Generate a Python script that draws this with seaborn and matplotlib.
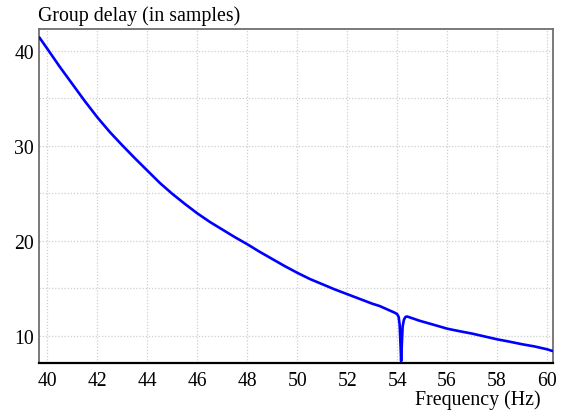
import matplotlib
matplotlib.use("Agg")
import matplotlib.pyplot as plt
from matplotlib.ticker import MultipleLocator
import seaborn as sns
import pandas as pd

# Group delay of the filter versus frequency
freq_hz = [39.68, 40.0, 40.5, 41.0, 41.5, 42.0, 42.5, 43.0, 43.5, 44.0, 44.5,
           45.0, 45.5, 46.0, 46.5, 47.0, 47.5, 48.0, 48.5, 49.0, 49.5, 50.0,
           50.5, 51.0, 51.5, 52.0, 52.5, 53.0, 53.3, 53.6, 53.9, 54.0, 54.06,
           54.1, 54.13, 54.16, 54.19, 54.22, 54.27, 54.33, 54.4, 54.9, 55.5,
           56.0, 56.5, 57.0, 57.5, 58.0, 58.5, 59.0, 59.5, 60.0, 60.22]
delay_samples = [41.4, 40.2, 38.3, 36.5, 34.7, 33.0, 31.45, 30.05, 28.7, 27.4, 26.1,
                 24.95, 23.9, 22.9, 22.0, 21.2, 20.4, 19.65, 18.85, 18.1, 17.35, 16.65,
                 16.0, 15.45, 14.9, 14.4, 13.9, 13.4, 13.15, 12.8, 12.45, 12.3, 12.0,
                 11.2, 9.4, 7.35, 9.3, 11.0, 11.7, 12.0, 12.05, 11.6, 11.15,
                 10.77, 10.5, 10.25, 9.95, 9.65, 9.4, 9.13, 8.9, 8.6, 8.42]
x_ticks = [40, 42, 44, 46, 48, 50, 52, 54, 56, 58, 60]
y_ticks = [10, 20, 30, 40]

df = pd.DataFrame({"freq": freq_hz, "delay": delay_samples})

sns.set_theme(style="white")
plt.rcParams["font.family"] = ["Liberation Serif", "DejaVu Serif"]

fig = plt.figure(figsize=(5.65, 4.14), dpi=100)
ax = fig.add_axes([0.0696, 0.1208, 0.978 - 0.0696, 0.9275 - 0.1208])

sns.lineplot(data=df, x="freq", y="delay", ax=ax, color="#0000ff",
             linewidth=1.9, sort=False, zorder=3)

ax.set_xlim(39.68, 60.22)
ax.set_ylim(7.16, 42.28)
ax.set_xticks(x_ticks)
ax.set_yticks(y_ticks)
ax.yaxis.set_minor_locator(MultipleLocator(5))
ax.set_xlabel("")
ax.set_ylabel("")

ax.grid(True, which="both", axis="y", color="#cfcfcf", linestyle=(0, (1, 1.5)), linewidth=0.9)
ax.grid(True, which="major", axis="x", color="#cfcfcf", linestyle=(0, (1, 1.5)), linewidth=0.9)
ax.set_axisbelow(True)

ax.tick_params(axis="both", which="both", length=0, labelsize=14.2, labelcolor="black")
ax.tick_params(axis="x", pad=6)
ax.tick_params(axis="y", pad=4)

for side in ["left", "top", "right"]:
    ax.spines[side].set_color("#707070")
    ax.spines[side].set_linewidth(1.3)
ax.spines["bottom"].set_color("black")
ax.spines["bottom"].set_linewidth(1.6)

fig.text(38 / 565, 1 - 21 / 414, "Group delay (in samples)", ha="left", va="baseline",
         fontsize=14.3, color="black")
fig.text(541 / 565, 1 - 400 / 414, "Frequency (Hz)", ha="right", va="center",
         fontsize=14.3, color="black")

fig.savefig("out.png", dpi=100, facecolor="white")
